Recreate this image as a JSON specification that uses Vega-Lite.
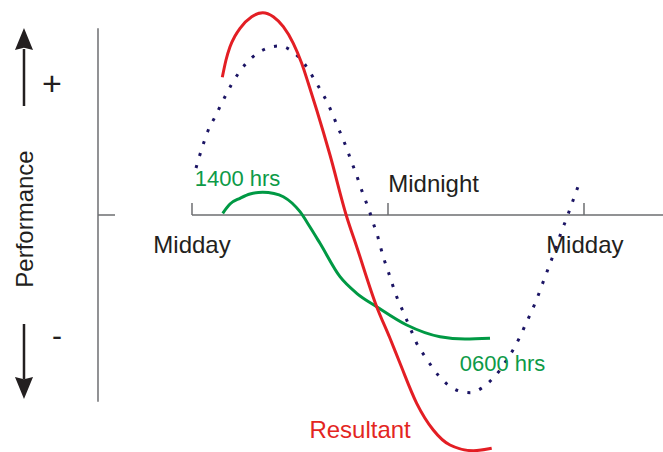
{
  "$schema": "https://vega.github.io/schema/vega-lite/v6.json",
  "width": 663,
  "height": 452,
  "autosize": {"type": "none"},
  "padding": 0,
  "background": "white",
  "view": {"stroke": null},
  "config": {"font": "Liberation Sans"},
  "datasets": {
    "dotted": [
      {"h": 12.245, "p": 4.7}, {"h": 12.673, "p": 7.0}, {"h": 13.102, "p": 8.9}, {"h": 13.365, "p": 9.67},
      {"h": 13.714, "p": 10.83}, {"h": 14.063, "p": 11.97}, {"h": 14.431, "p": 13.1}, {"h": 14.859, "p": 14.2},
      {"h": 15.349, "p": 15.23}, {"h": 15.918, "p": 16.07}, {"h": 16.592, "p": 16.67}, {"h": 17.345, "p": 16.9},
      {"h": 18.104, "p": 16.4}, {"h": 18.655, "p": 15.57}, {"h": 19.12, "p": 14.57}, {"h": 19.531, "p": 13.43},
      {"h": 19.941, "p": 12.3}, {"h": 20.308, "p": 11.17}, {"h": 20.614, "p": 10.03}, {"h": 20.92, "p": 8.83},
      {"h": 21.226, "p": 7.67}, {"h": 21.508, "p": 6.5}, {"h": 21.777, "p": 5.27}, {"h": 22.059, "p": 4.07},
      {"h": 22.304, "p": 2.87}, {"h": 22.573, "p": 1.67}, {"h": 22.855, "p": 0.43}, {"h": 23.1, "p": -0.83},
      {"h": 23.345, "p": -2.0}, {"h": 23.553, "p": -3.27}, {"h": 23.773, "p": -4.5}, {"h": 24.018, "p": -5.67},
      {"h": 24.263, "p": -6.9}, {"h": 24.532, "p": -8.17}, {"h": 24.839, "p": -9.33}, {"h": 25.145, "p": -10.5},
      {"h": 25.451, "p": -11.67}, {"h": 25.757, "p": -12.83}, {"h": 26.161, "p": -13.9}, {"h": 26.614, "p": -15.0},
      {"h": 27.08, "p": -16.03}, {"h": 27.631, "p": -16.93}, {"h": 28.304, "p": -17.57}, {"h": 29.039, "p": -17.77},
      {"h": 29.773, "p": -17.27}, {"h": 30.386, "p": -16.4}, {"h": 30.857, "p": -15.5}, {"h": 31.304, "p": -14.4},
      {"h": 31.714, "p": -13.33}, {"h": 32.082, "p": -12.17}, {"h": 32.406, "p": -11.0}, {"h": 32.737, "p": -9.83},
      {"h": 33.043, "p": -8.67}, {"h": 33.612, "p": -6.2}, {"h": 34.163, "p": -3.8}, {"h": 34.671, "p": -1.43},
      {"h": 34.959, "p": -0.23}, {"h": 35.222, "p": 0.97}, {"h": 35.492, "p": 2.2}, {"h": 35.755, "p": 3.4}
    ],
    "green": [
      {"h": 13.88, "p": 0.17}, {"h": 14.327, "p": 1.1}, {"h": 14.939, "p": 1.67}, {"h": 15.551, "p": 2.1},
      {"h": 16.329, "p": 2.27}, {"h": 17.02, "p": 2.15}, {"h": 17.59, "p": 1.83}, {"h": 18.122, "p": 1.2},
      {"h": 18.612, "p": 0.33}, {"h": 19.224, "p": -1.2}, {"h": 19.837, "p": -2.83}, {"h": 21.061, "p": -6.17},
      {"h": 22.084, "p": -7.83}, {"h": 23.308, "p": -9.17}, {"h": 25.145, "p": -11.0}, {"h": 27.184, "p": -12.17},
      {"h": 28.714, "p": -12.4}, {"h": 30.245, "p": -12.33}
    ],
    "red": [
      {"h": 13.855, "p": 13.77}, {"h": 14.082, "p": 15.5}, {"h": 14.327, "p": 16.83}, {"h": 14.633, "p": 17.9},
      {"h": 14.939, "p": 18.67}, {"h": 15.655, "p": 19.83}, {"h": 16.329, "p": 20.23}, {"h": 16.978, "p": 19.83},
      {"h": 17.59, "p": 18.83}, {"h": 18.202, "p": 17.17}, {"h": 18.716, "p": 15.17}, {"h": 19.12, "p": 13.17},
      {"h": 19.635, "p": 10.5}, {"h": 20.449, "p": 6.0}, {"h": 21.471, "p": -0.17}, {"h": 22.084, "p": -3.17},
      {"h": 23.308, "p": -9.17}, {"h": 24.122, "p": -12.33}, {"h": 24.735, "p": -14.83}, {"h": 25.757, "p": -18.83},
      {"h": 26.773, "p": -21.5}, {"h": 27.796, "p": -23.0}, {"h": 29.223, "p": -23.57}, {"h": 30.349, "p": -23.33}
    ]
  },
  "encoding": {
    "x": {"type": "quantitative", "scale": {"domain": [0.245, 40.837], "nice": false, "zero": false}, "axis": null},
    "y": {"type": "quantitative", "scale": {"domain": [-23.7, 21.5], "nice": false, "zero": false}, "axis": null}
  },
  "layer": [
    {
      "data": {"values": [
        {"x": 6.245, "x2": 6.245, "y": 18.67, "y2": -18.67},
        {"x": 6.245, "x2": 7.286, "y": 0, "y2": 0},
        {"x": 12.0, "x2": 40.84, "y": 0, "y2": 0},
        {"x": 12, "x2": 12, "y": 0, "y2": 1.2},
        {"x": 24, "x2": 24, "y": 0, "y2": 1.2},
        {"x": 36, "x2": 36, "y": 0, "y2": 1.2}
      ]},
      "mark": {"type": "rule", "color": "#6d6e71", "strokeWidth": 1.5},
      "encoding": {"x": {"field": "x"}, "x2": {"field": "x2"}, "y": {"field": "y"}, "y2": {"field": "y2"}}
    },
    {
      "data": {"values": [
        {"x": 1.714, "y": 10.9, "y2": 16.6},
        {"x": 1.714, "y": -10.9, "y2": -16.4}
      ]},
      "mark": {"type": "rule", "color": "#231f20", "strokeWidth": 2.5},
      "encoding": {"x": {"field": "x"}, "y": {"field": "y"}, "y2": {"field": "y2"}}
    },
    {
      "data": {"values": [{"x": 1.714, "y": 17.6}]},
      "mark": {"type": "point", "filled": true, "opacity": 1, "color": "#231f20", "size": 484, "shape": "M0,-1L0.82,1L0,0.8L-0.82,1Z"},
      "encoding": {"x": {"field": "x"}, "y": {"field": "y"}}
    },
    {
      "data": {"values": [{"x": 1.714, "y": -17.3}]},
      "mark": {"type": "point", "filled": true, "opacity": 1, "color": "#231f20", "size": 484, "shape": "M0,1L0.82,-1L0,-0.8L-0.82,-1Z"},
      "encoding": {"x": {"field": "x"}, "y": {"field": "y"}}
    },
    {
      "data": {"name": "dotted"},
      "mark": {"type": "line", "color": "#1b1464", "strokeWidth": 3, "strokeDash": [3, 9.5], "interpolate": "monotone", "clip": false},
      "encoding": {"x": {"field": "h"}, "y": {"field": "p"}}
    },
    {
      "data": {"name": "green"},
      "mark": {"type": "line", "color": "#009944", "strokeWidth": 3, "interpolate": "monotone", "clip": false},
      "encoding": {"x": {"field": "h"}, "y": {"field": "p"}}
    },
    {
      "data": {"name": "red"},
      "mark": {"type": "line", "color": "#e31e24", "strokeWidth": 3, "interpolate": "monotone", "clip": false},
      "encoding": {"x": {"field": "h"}, "y": {"field": "p"}}
    },
    {
      "data": {"values": [
        {"label": "Midday", "x": 12.0, "y": -3.83, "c": "#231f20", "s": 24},
        {"label": "Midday", "x": 36.05, "y": -3.83, "c": "#231f20", "s": 24},
        {"label": "Midnight", "x": 26.79, "y": 2.3, "c": "#231f20", "s": 24},
        {"label": "1400 hrs", "x": 14.79, "y": 2.9, "c": "#0d9a48", "s": 22},
        {"label": "0600 hrs", "x": 31.01, "y": -15.6, "c": "#0d9a48", "s": 22},
        {"label": "Resultant", "x": 22.29, "y": -22.3, "c": "#e3261f", "s": 24},
        {"label": "+", "x": 3.43, "y": 12.0, "c": "#231f20", "s": 34},
        {"label": "-", "x": 3.74, "y": -13.1, "c": "#231f20", "s": 30}
      ]},
      "mark": {"type": "text", "align": "center", "baseline": "alphabetic"},
      "encoding": {
        "x": {"field": "x"},
        "y": {"field": "y"},
        "text": {"field": "label"},
        "color": {"field": "c", "type": "nominal", "scale": null},
        "size": {"field": "s", "type": "quantitative", "scale": null}
      }
    },
    {
      "data": {"values": [{"label": "Performance", "x": 2.265, "y": -0.4}]},
      "mark": {"type": "text", "align": "center", "baseline": "alphabetic", "angle": 270, "fontSize": 24, "color": "#231f20"},
      "encoding": {"x": {"field": "x"}, "y": {"field": "y"}, "text": {"field": "label"}}
    }
  ]
}
